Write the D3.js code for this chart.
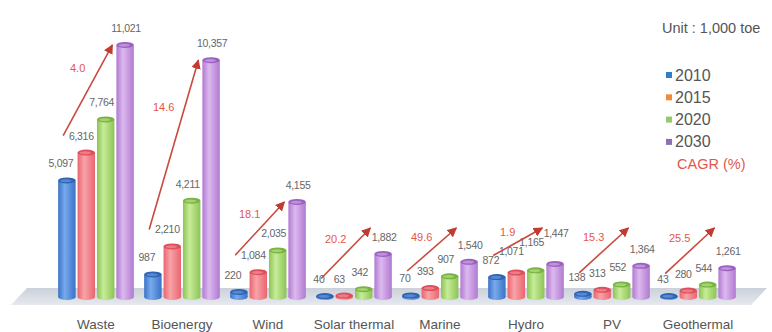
<!DOCTYPE html>
<html>
<head>
<meta charset="utf-8">
<script src="https://cdn.jsdelivr.net/npm/d3@7"></script>
<style>
  html, body { margin: 0; padding: 0; background: #fff; }
  svg { display: block; font-family: "Liberation Sans", Arial, sans-serif; }
</style>
</head>
<body>
<svg id="chart" width="772" height="332"></svg>
<script>
// Renewable energy supply outlook by source (unit: 1,000 toe)
const categories = ["Waste", "Bioenergy", "Wind", "Solar thermal", "Marine", "Hydro", "PV", "Geothermal"];
const years = ["2010", "2015", "2020", "2030"];
const v2010 = [5097, 987, 220, 40, 70, 872, 138, 43];
const v2015 = [6316, 2210, 1084, 63, 393, 1071, 313, 280];
const v2020 = [7764, 4211, 2035, 342, 907, 1165, 552, 544];
const v2030 = [11021, 10357, 4155, 1882, 1540, 1447, 1364, 1261];
const cagr = [4.0, 14.6, 18.1, 20.2, 49.6, 1.9, 15.3, 25.5];
const series = [v2010, v2015, v2020, v2030];

// bar body gradients (edge, highlight, edge) and cap colours per year
const barStyle = [
  { edge: "#3a72c6", light: "#78aaec", cap: "#2f63b3" },
  { edge: "#e9656f", light: "#f9a3a8", cap: "#dc4f5b" },
  { edge: "#8dc455", light: "#c6ec98", cap: "#79b342" },
  { edge: "#b17ad2", light: "#dcb9ee", cap: "#9a62c0" }
];
const legendColors = ["#2f7fd1", "#f28b38", "#93c971", "#8b70b4"];

const svg = d3.select("#chart");
const base = 297;

const y = d3.scaleLinear().domain([0, 12000]).range([base, 22.6]);
const x0 = d3.scaleBand().domain(categories).range([53, 741]).paddingInner(0.12).paddingOuter(0.06);
const x1 = d3.scaleBand().domain(years).range([0, x0.bandwidth()]).paddingInner(0.1);
const bw = x1.bandwidth();

const defs = svg.append("defs");
barStyle.forEach((s, i) => {
  const g = defs.append("linearGradient").attr("id", "bar" + i).attr("x1", 0).attr("x2", 1).attr("y1", 0).attr("y2", 0);
  g.append("stop").attr("offset", "0%").attr("stop-color", s.edge);
  g.append("stop").attr("offset", "38%").attr("stop-color", s.light);
  g.append("stop").attr("offset", "100%").attr("stop-color", s.edge);
});
const fg = defs.append("linearGradient").attr("id", "floor").attr("x1", 0).attr("x2", 0).attr("y1", 0).attr("y2", 1);
fg.append("stop").attr("offset", "0%").attr("stop-color", "#cbd1da");
fg.append("stop").attr("offset", "100%").attr("stop-color", "#e6e9ee");
const mk = defs.append("marker").attr("id", "head").attr("viewBox", "0 0 10 10")
  .attr("refX", 9).attr("refY", 5).attr("markerWidth", 6).attr("markerHeight", 6)
  .attr("markerUnits", "strokeWidth").attr("orient", "auto");
mk.append("path").attr("d", "M0,0 L10,5 L0,10 Z").attr("fill", "#c23a30");

// floor plate
const [r0, r1] = x0.range();
svg.append("polygon")
  .attr("points", [[r0 - 26, 288], [r1 + 26, 288], [r1 + 10, 305], [r0 - 42, 305]].map(p => p.join(",")).join(" "))
  .attr("fill", "url(#floor)");

// bars
const groups = svg.selectAll("g.cat").data(categories).join("g")
  .attr("class", "cat")
  .attr("transform", d => `translate(${x0(d)},0)`);

years.forEach((yr, si) => {
  groups.each(function (c, ci) {
    const g = d3.select(this);
    const v = series[si][ci];
    const bx = x1(yr), top = y(v);
    g.append("ellipse").attr("cx", bx + bw / 2).attr("cy", base).attr("rx", bw / 2).attr("ry", 3)
      .attr("fill", `url(#bar${si})`);
    g.append("rect").attr("x", bx).attr("y", top).attr("width", bw).attr("height", base - top)
      .attr("fill", `url(#bar${si})`);
    g.append("ellipse").attr("cx", bx + bw / 2).attr("cy", top).attr("rx", bw / 2).attr("ry", 3)
      .attr("fill", barStyle[si].cap);
    g.append("ellipse").attr("cx", bx + bw / 2 - 1).attr("cy", top + 0.3).attr("rx", bw / 2 - 3).attr("ry", 1.5)
      .attr("fill", barStyle[si].light).attr("opacity", 0.55);
  });
});

// value labels, staggered upward when neighbours collide
const fmt = d3.format(",");
const xOff = [-6, -5, -4, 1];
categories.forEach((c, ci) => {
  let prev = null;
  years.forEach((yr, si) => {
    const v = series[si][ci];
    const txt = fmt(v);
    const cx = x0(c) + x1(yr) + bw / 2 + xOff[si];
    const w = txt.length * 5.6;
    let by = y(v) - 13;
    if (prev && cx - w / 2 < prev.cx + prev.w / 2 && by > prev.by - 9) by = prev.by - 9;
    svg.append("text").attr("x", cx).attr("y", by).attr("text-anchor", "middle")
      .attr("font-size", 10.5).attr("letter-spacing", -0.3).attr("fill", "#666").text(txt);
    prev = { cx, w, by };
  });
});

// CAGR arrows from 2015 level up to 2030 level
const cfmt = d3.format(".1f");
categories.forEach((c, ci) => {
  const gx = x0(c);
  const tail = [gx + 5, y(v2015[ci]) - 17];
  const tip = [gx + x1("2030") - 4, Math.min(y(v2030[ci]), base - 69)];
  svg.append("line").attr("x1", tail[0]).attr("y1", tail[1]).attr("x2", tip[0]).attr("y2", tip[1])
    .attr("stroke", "#c94a3e").attr("stroke-width", 1.6).attr("marker-end", "url(#head)");
  const t = 0.7;
  svg.append("text")
    .attr("x", tail[0] + (tip[0] - tail[0]) * t - 20)
    .attr("y", tail[1] + (tip[1] - tail[1]) * t - 4)
    .attr("text-anchor", "middle").attr("dominant-baseline", "central")
    .attr("font-size", 11).attr("fill", "#e2574c").text(cfmt(cagr[ci]));
});

// category axis labels
svg.append("g").selectAll("text").data(categories).join("text")
  .attr("x", d => x0(d) + x0.bandwidth() / 2).attr("y", 329)
  .attr("text-anchor", "middle").attr("font-size", 13.5).attr("fill", "#555").text(d => d);

// unit note and legend
svg.append("text").attr("x", 662).attr("y", 33).attr("font-size", 14.5).attr("fill", "#555").text("Unit : 1,000 toe");
const lg = svg.append("g").selectAll("g").data(years).join("g")
  .attr("transform", (d, i) => `translate(666,${75 + i * 22.3})`);
lg.append("rect").attr("x", 0).attr("y", -3).attr("width", 6).attr("height", 6).attr("fill", (d, i) => legendColors[i]);
lg.append("text").attr("x", 9).attr("y", 0).attr("dominant-baseline", "central")
  .attr("font-size", 16).attr("fill", "#555").text(d => d);
svg.append("text").attr("x", 677).attr("y", 164).attr("dominant-baseline", "central")
  .attr("font-size", 14.5).attr("fill", "#e2574c").text("CAGR (%)");
</script>
</body>
</html>
